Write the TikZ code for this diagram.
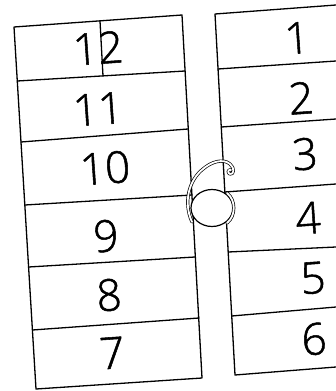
\documentclass[tikz,border=0pt]{standalone}
\usepackage{fontspec}
\IfFontExistsTF{Open Sans Light}{\newfontfamily\digitfont[FakeBold=1.2]{Open Sans Light}}{%
  \IfFontExistsTF{Fira Sans Light}{\newfontfamily\digitfont{Fira Sans Light}}{\newfontfamily\digitfont{Liberation Sans}}}
\begin{document}
\begin{tikzpicture}[x=1pt,y=-1pt,line width=1.3pt,line join=round,line cap=round,
  digit/.style={font=\digitfont\fontsize{44}{44}\selectfont,rotate=4,inner sep=0pt},
  outline/.style={double,double distance=1.8pt,line width=0.7pt}]
\useasboundingbox (0,0) rectangle (336,391);
% left column
\draw (14,27) -- (182,15) -- (202,378) -- (36,389) -- cycle;
\draw (17.3,81) -- (185,71);
\draw (21,142) -- (188,129);
\draw (24.8,205) -- (192,195);
\draw (28.6,267) -- (195,257);
\draw (32.4,330) -- (199,318);
\draw (100,21) -- (103,76);
% right column
\draw (336,5) -- (215,14) -- (235,375) -- (336,367);
\draw (218,69) -- (336,61);
\draw (221.3,127) -- (336,119);
\draw (224.7,192) -- (336,184);
\draw (228.2,252) -- (336,247);
\draw (231.7,316) -- (336,307);
% digits left
\node[digit] (n12) at (98,48) {12};
\node[digit] (n11) at (98,109) {11};
\node[digit] (n10) at (105,168) {10};
\node[digit] (n9) at (106,236) {9};
\node[digit] (n8) at (109,295) {8};
\node[digit] (n7) at (112,353) {7};
% digits right
\node[digit] (n1) at (297,38) {1};
\node[digit] (n2) at (301,98) {2};
\node[digit] (n3) at (305,154) {3};
\node[digit] (n4) at (308,218) {4};
\node[digit] (n5) at (313,278) {5};
\node[digit] (n6) at (314,339) {6};
% ornate 6 in the middle
\fill[white] (212,208) ellipse [x radius=21,y radius=18.5];
\draw[line width=1.2pt] (212,208) ellipse [x radius=21,y radius=18.5];
\draw[outline] (192,222) .. controls (183,202) and (189,180) .. (203,169)
  .. controls (211,162) and (223,158) .. (230,164)
  .. controls (235,168) and (234,175) .. (230,174)
  .. controls (227,173) and (228,169) .. (231,170);
\draw[outline] (227,193) .. controls (236,200) and (236,216) .. (227,223);
\end{tikzpicture}
\end{document}
